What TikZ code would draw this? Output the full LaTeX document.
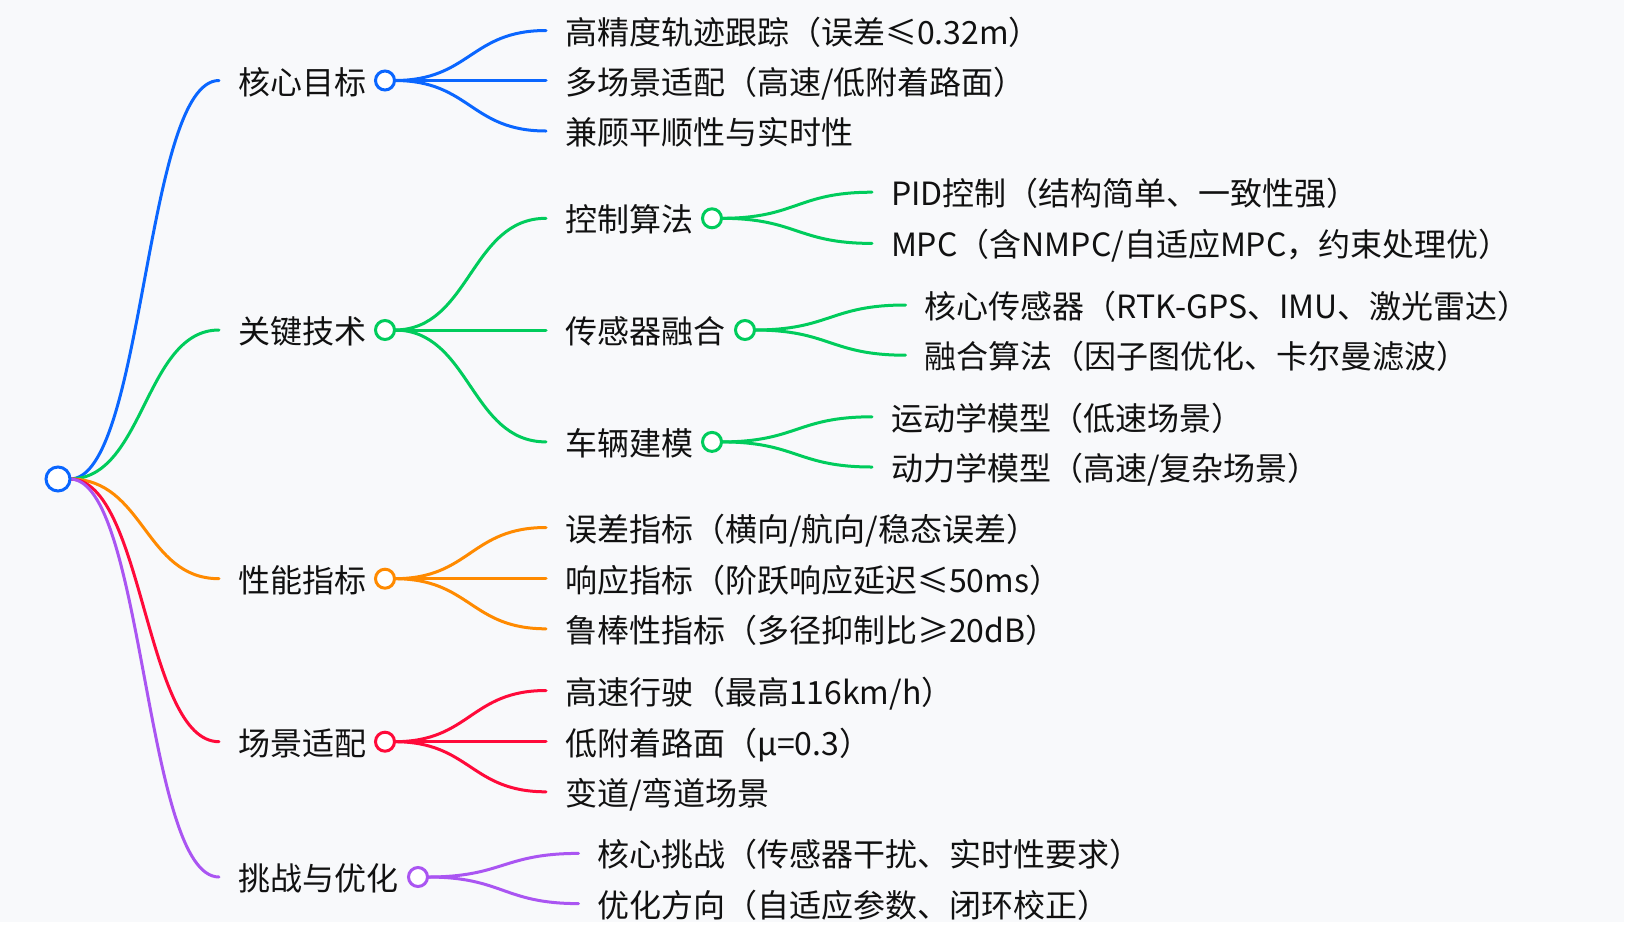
\documentclass[tikz,border=0pt]{standalone}
\usepackage{fontspec}
\newfontfamily\cjkfont{Noto Sans CJK SC}
\usetikzlibrary{calc,backgrounds}
\definecolor{bgc}{HTML}{F8F9FB}
\definecolor{cblue}{HTML}{0A66FF}
\definecolor{cgreen}{HTML}{00CC5C}
\definecolor{corange}{HTML}{FF8A00}
\definecolor{cred}{HTML}{FF0A3A}
\definecolor{cpurple}{HTML}{AA55F2}
\definecolor{txt}{HTML}{111111}
\tikzset{
  lbl/.style={anchor=west, inner sep=0pt, outer sep=0pt, text=txt,
    font=\cjkfont\fontsize{32pt}{38pt}\selectfont, text height=30pt, text depth=3pt},
  dot/.style={circle, draw=#1, fill=white, line width=3pt, minimum size=19pt, inner sep=0pt, outer sep=0pt},
  rootdot/.style={circle, draw=cblue, fill=white, line width=3pt, minimum size=24pt, inner sep=0pt, outer sep=0pt},
  link/.style={draw=#1, line width=3pt, line cap=round,
    to path={let \p1=(\tikztostart), \p2=(\tikztotarget) in .. controls ({(\x1+\x2)/2},\y1) and ({(\x1+\x2)/2},\y2) .. (\tikztotarget)}},
}
\begin{document}
\begin{tikzpicture}[x=1pt,y=-1pt]
\useasboundingbox (0,0) rectangle (1638,946);

% root
\node[rootdot] (root) at (58,479) {};

% level 1
\node[lbl] (k1) at (238,80.5) {核心目标};
\node[dot=cblue] (c1) at (385,80.5) {};
\node[lbl] (k2) at (238,330) {关键技术};
\node[dot=cgreen] (c2) at (385,330) {};
\node[lbl] (k3) at (238,578.7) {性能指标};
\node[dot=corange] (c3) at (385,578.7) {};
\node[lbl] (k4) at (238,741.7) {场景适配};
\node[dot=cred] (c4) at (385,741.7) {};
\node[lbl] (k5) at (238,877) {挑战与优化};
\node[dot=cpurple] (c5) at (418,877) {};

% level 2
\node[lbl] (a1) at (565,30.5) {高精度轨迹跟踪（误差≤0.32m）};
\node[lbl] (a2) at (565,80.5) {多场景适配（高速/低附着路面）};
\node[lbl] (a3) at (565,131) {兼顾平顺性与实时性};

\node[lbl] (b1) at (565,218.3) {控制算法};
\node[dot=cgreen] (cb1) at (712,218.3) {};
\node[lbl] (b2) at (565,330) {传感器融合};
\node[dot=cgreen] (cb2) at (745,330) {};
\node[lbl] (b3) at (565,441.9) {车辆建模};
\node[dot=cgreen] (cb3) at (712,441.9) {};

\node[lbl] (d1) at (565,527.5) {误差指标（横向/航向/稳态误差）};
\node[lbl] (d2) at (565,578.7) {响应指标（阶跃响应延迟≤50ms）};
\node[lbl] (d3) at (565,628.8) {鲁棒性指标（多径抑制比≥20dB）};

\node[lbl] (e1) at (565,690.5) {高速行驶（最高116km/h）};
\node[lbl] (e2) at (565,741.7) {低附着路面（μ=0.3）};
\node[lbl] (e3) at (565,791.8) {变道/弯道场景};

\node[lbl] (f1) at (597.5,853.4) {核心挑战（传感器干扰、实时性要求）};
\node[lbl] (f2) at (597.5,903.6) {优化方向（自适应参数、闭环校正）};

% level 3
\node[lbl] (g1) at (891,192.2) {PID控制（结构简单、一致性强）};
\node[lbl] (g2) at (891,243.4) {MPC（含NMPC/自适应MPC，约束处理优）};
\node[lbl] (h1) at (924.5,305) {核心传感器（RTK-GPS、IMU、激光雷达）};
\node[lbl] (h2) at (924.5,355.2) {融合算法（因子图优化、卡尔曼滤波）};
\node[lbl] (i1) at (891,416.8) {运动学模型（低速场景）};
\node[lbl] (i2) at (891,467) {动力学模型（高速/复杂场景）};

\begin{scope}[on background layer]
\fill[white] (0,0) rectangle (1638,946);
\fill[bgc] (0,0) rectangle (1624,922);
% root links
\draw[link=cblue] (root.east) to ([xshift=-19pt]k1.west);
\draw[link=cgreen] (root.east) to ([xshift=-19pt]k2.west);
\draw[link=corange] (root.east) to ([xshift=-19pt]k3.west);
\draw[link=cred] (root.east) to ([xshift=-19pt]k4.west);
\draw[link=cpurple] (root.east) to ([xshift=-19pt]k5.west);
% level 1 -> 2
\draw[link=cblue] (c1.east) to ([xshift=-19pt]a1.west);
\draw[link=cblue] (c1.east) to ([xshift=-19pt]a2.west);
\draw[link=cblue] (c1.east) to ([xshift=-19pt]a3.west);
\draw[link=cgreen] (c2.east) to ([xshift=-19pt]b1.west);
\draw[link=cgreen] (c2.east) to ([xshift=-19pt]b2.west);
\draw[link=cgreen] (c2.east) to ([xshift=-19pt]b3.west);
\draw[link=corange] (c3.east) to ([xshift=-19pt]d1.west);
\draw[link=corange] (c3.east) to ([xshift=-19pt]d2.west);
\draw[link=corange] (c3.east) to ([xshift=-19pt]d3.west);
\draw[link=cred] (c4.east) to ([xshift=-19pt]e1.west);
\draw[link=cred] (c4.east) to ([xshift=-19pt]e2.west);
\draw[link=cred] (c4.east) to ([xshift=-19pt]e3.west);
\draw[link=cpurple] (c5.east) to ([xshift=-19pt]f1.west);
\draw[link=cpurple] (c5.east) to ([xshift=-19pt]f2.west);
% level 2 -> 3
\draw[link=cgreen] (cb1.east) to ([xshift=-19pt]g1.west);
\draw[link=cgreen] (cb1.east) to ([xshift=-19pt]g2.west);
\draw[link=cgreen] (cb2.east) to ([xshift=-19pt]h1.west);
\draw[link=cgreen] (cb2.east) to ([xshift=-19pt]h2.west);
\draw[link=cgreen] (cb3.east) to ([xshift=-19pt]i1.west);
\draw[link=cgreen] (cb3.east) to ([xshift=-19pt]i2.west);
\end{scope}
\end{tikzpicture}
\end{document}
